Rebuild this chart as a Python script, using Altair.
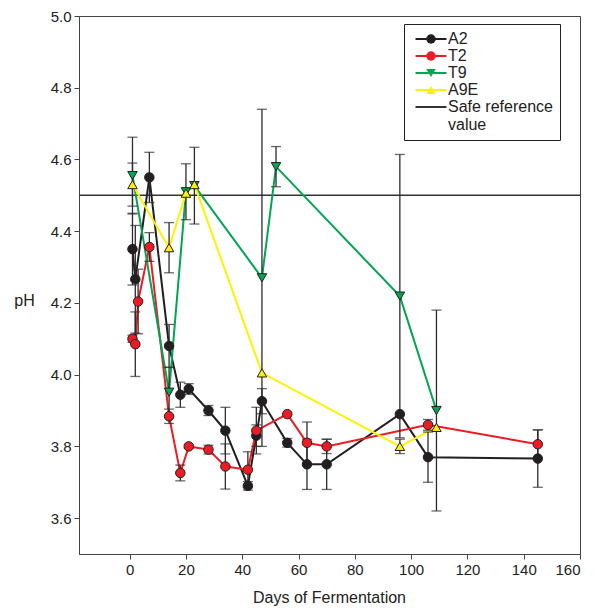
import altair as alt
import pandas as pd

FONT = "Liberation Sans"

# ---- data ----
A2_days = [1, 2, 7, 14, 18, 21, 28, 34, 42, 45, 47, 56, 63, 70, 96, 106, 145]
A2_ph = [4.35, 4.266, 4.55, 4.08, 3.944, 3.96, 3.90, 3.844, 3.69, 3.83, 3.926, 3.81, 3.75, 3.75, 3.89, 3.77, 3.766]
A2_err = [0.10, 0.15, 0.07, 0.06, 0.035, 0.015, 0.014, 0.065, 0.012, 0.03, 0.035, 0.012, 0.07, 0.07, 0.0, 0.07, 0.08]

T2_days = [1, 2, 3, 7, 14, 18, 21, 28, 34, 42, 45, 56, 63, 70, 106, 145]
T2_ph = [4.10, 4.085, 4.204, 4.356, 3.884, 3.726, 3.80, 3.791, 3.744, 3.735, 3.844, 3.89, 3.81, 3.80, 3.86, 3.806]
T2_err = [0.01, 0.09, 0.09, 0.04, 0.02, 0.022, 0.005, 0.012, 0.063, 0.05, 0.065, 0.0, 0.058, 0.02, 0.015, 0.04]

T9_days = [1, 14, 20, 23, 47, 52, 96, 109]
T9_ph = [4.555, 3.951, 4.51, 4.527, 4.27, 4.58, 4.219, 3.90]
T9_err = [0.107, 0.07, 0.078, 0.107, 0.47, 0.056, 0.395, 0.28]

A9E_days = [1, 14, 20, 23, 47, 96, 109]
A9E_ph = [4.53, 4.354, 4.506, 4.53, 4.005, 3.80, 3.853]
A9E_err = [0.06, 0.07, 0.0, 0.0, 0.0, 0.02, 0.0]

series_names = ["A2", "T2", "T9", "A9E"]
ref_name = "Safe reference value"
ref_value = [4.5]

x_ticks = [0, 20, 40, 60, 80, 100, 120, 140, 160]
y_ticks = [3.6, 3.8, 4.0, 4.2, 4.4, 4.6, 4.8, 5.0]

line_colors = ["#231f20", "#ed1c24", "#00a651", "#fff200", "#333333"]
marker_shapes = ["circle", "circle", "triangle-down", "triangle-up"]

rows = []
for name, days, ph, err in [("A2", A2_days, A2_ph, A2_err), ("T2", T2_days, T2_ph, T2_err),
                            ("T9", T9_days, T9_ph, T9_err), ("A9E", A9E_days, A9E_ph, A9E_err)]:
    for d, p, e in zip(days, ph, err):
        rows.append({"series": name, "series_m": name, "day": d, "ph": p, "lo": p - e, "hi": p + e, "err": e})
df = pd.DataFrame(rows)
err_df = df[df["err"] > 0]
ref_df = pd.DataFrame({"series": [ref_name], "ph": ref_value})

x_scale = alt.Scale(domain=[-18, 160], nice=False, zero=False)
y_scale = alt.Scale(domain=[3.5, 5.0], nice=False, zero=False)

x_axis = alt.Axis(values=x_ticks, title="Days of Fermentation", grid=False, tickSize=5,
                  labelPadding=3, labelFontSize=15, titleFontSize=16, titleFontWeight="normal",
                  titleY=43, titleX=250, titleBaseline="middle", titleAnchor="middle")
y_axis = alt.Axis(values=y_ticks, format=".1f", title="pH", grid=False, tickSize=5,
                  labelPadding=3, labelFontSize=15, titleFontSize=16, titleFontWeight="normal",
                  titleAngle=0, titleX=-55, titleY=284, titleAlign="center", titleBaseline="middle")

X = alt.X("day:Q", scale=x_scale, axis=x_axis)
Y = alt.Y("ph:Q", scale=y_scale, axis=y_axis)

color_scale = alt.Scale(domain=series_names + [ref_name], range=line_colors)
fill_scale = alt.Scale(domain=series_names, range=line_colors[:4])
shape_scale = alt.Scale(domain=series_names, range=marker_shapes)

line_legend = alt.Legend(
    title=None, orient="none", legendX=325, legendY=8,
    symbolType="M-3.1,0H3.1", symbolSize=100, symbolStrokeWidth=2,
    symbolOffset=12, labelOffset=9,
    labelFont=FONT, labelFontSize=16, labelColor="#222", labelLimit=300,
    padding=7, rowPadding=1, strokeColor="#222",
    labelExpr="datum.label == 'Safe reference value' ? ['Safe reference    ', 'value'] : datum.label",
)
marker_legend = alt.Legend(
    title=None, orient="none", legendX=325, legendY=8,
    symbolSize=90, symbolStrokeColor="#231f20", symbolStrokeWidth=1,
    symbolOffset=12, labelOffset=9,
    labelFont=FONT, labelFontSize=16, labelOpacity=0,
    padding=7, rowPadding=1,
)

lines = alt.Chart(df).mark_line(strokeWidth=2).encode(
    x=X, y=Y,
    color=alt.Color("series:N", scale=color_scale, legend=line_legend),
)

ref = alt.Chart(ref_df).mark_rule(strokeWidth=1.5).encode(
    y=Y,
    color=alt.Color("series:N", scale=color_scale, legend=line_legend),
)

errs = alt.Chart(err_df).mark_errorbar(ticks=True, size=10, thickness=1.3, color="#2b2b2b").encode(
    x=X,
    y=alt.Y("lo:Q", scale=y_scale, axis=y_axis),
    y2="hi:Q",
)

points = alt.Chart(df).mark_point(filled=True, size=90, stroke="#231f20", strokeWidth=1, opacity=1).encode(
    x=X, y=Y,
    fill=alt.Fill("series_m:N", scale=fill_scale, legend=marker_legend),
    shape=alt.Shape("series_m:N", scale=shape_scale, legend=marker_legend),
)

chart = alt.layer(ref, lines, errs, points).properties(
    width=501, height=538,
    autosize=alt.AutoSizeParams(type="none"),
    padding={"left": 71, "top": 8, "right": 15, "bottom": 56},
).configure_view(
    stroke="#444", strokeWidth=1,
).configure_axis(
    labelFont=FONT, titleFont=FONT, labelColor="#222", titleColor="#222",
    domainColor="#444", tickColor="#444", domainWidth=1, tickWidth=1,
).configure_legend(
    labelFont=FONT,
)

chart.save("out.html", embed_options={"renderer": "svg", "actions": False})
